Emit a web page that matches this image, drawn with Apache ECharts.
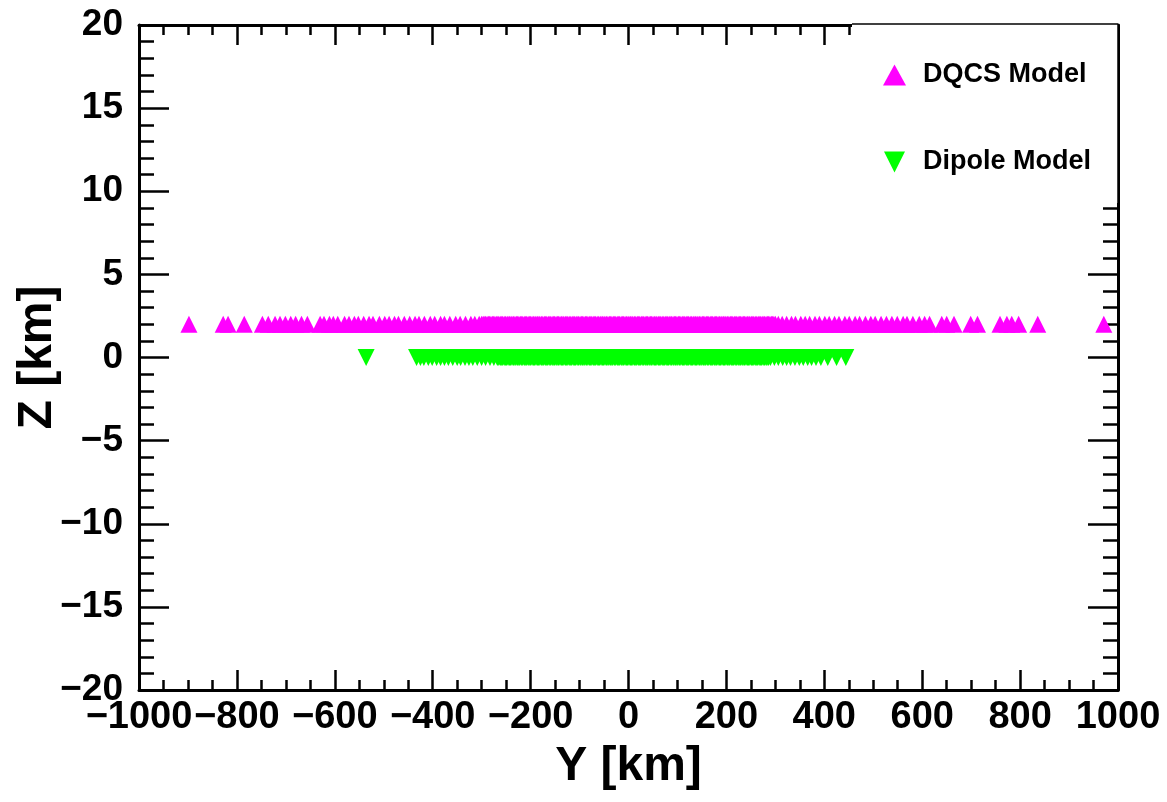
<!DOCTYPE html>
<html>
<head>
<meta charset="utf-8">
<script src="https://cdn.jsdelivr.net/npm/echarts@6/dist/echarts.min.js"></script>
<style>
html,body{margin:0;padding:0;background:#fff;}
#chart{width:1167px;height:802px;}
</style>
</head>
<body>
<div id="chart"></div>
<script>
// ---- data ----
const seriesNames = ['DQCS Model', 'Dipole Model'];
// Y [km] positions of the DQCS points (all at one Z level)
const dqcsY = [
  -898, -828, -818, -785, -748, -736, -722, -712, -701, -690, -680, -668, -656,
  -630, -622, -611, -603, -594, -580, -571, -560, -552, -541, -530, -522, -509,
  -498, -489, -478, -470, -458, -447, -436, -428, -417, -405, -396, -384, -376,
  -365, -353, -344, -333, -322, -314, -305,
  -300, -297, -295, -292, -289, -286, -284, -281, -278, -276, -273, -270, -267,
  -265, -262, -259, -257, -254, -251, -248, -246, -243, -240, -238, -235, -232,
  -229, -227, -224, -221, -219, -216, -213, -210, -208, -205, -202, -200, -197,
  -194, -191, -189, -186, -183, -181, -178, -175, -172, -170, -167, -164, -162,
  -159, -156, -153, -151, -148, -145, -143, -140, -137, -134, -132, -129, -126,
  -124, -121, -118, -115, -113, -110, -107, -105, -102, -99, -96, -94, -91, -88,
  -86, -83, -80, -77, -75, -72, -69, -67, -64, -61, -58, -56, -53, -50, -48,
  -45, -42, -39, -37, -34, -31, -29, -26, -23, -20, -18, -15, -12, -10, -7, -4,
  -1, 1, 4, 7, 9, 12, 15, 18, 20, 23, 26, 28, 31, 34, 37, 39, 42, 45, 47, 50,
  53, 56, 58, 61, 64, 66, 69, 72, 75, 77, 80, 83, 85, 88, 91, 94, 96, 99, 102,
  104, 107, 110, 113, 115, 118, 121, 123, 126, 129, 132, 134, 137, 140, 142,
  145, 148, 151, 153, 156, 159, 161, 164, 167, 170, 172, 175, 178, 180, 183,
  186, 189, 191, 194, 197, 199, 202, 205, 208, 210, 213, 216, 218, 221, 224,
  227, 229, 232, 235, 237, 240, 243, 246, 248, 251, 254, 256, 259, 262, 265,
  267, 270, 273, 275, 278, 281, 284, 286, 289, 292, 294, 297, 300,
  306, 314, 323, 333, 341, 352, 361, 370, 381, 390, 401, 410, 421, 430, 442,
  451, 463, 472, 484, 495, 504, 516, 527, 538, 549, 561, 569,
  581, 594, 605, 615, 640, 650, 665, 699, 713, 759, 773, 783, 797, 836, 971
];
const dqcsZ = 2.0;
// Y [km] positions of the Dipole points (all at one Z level)
const dipoleY = [
  -536,
  -433, -425, -418, -409, -401, -392, -384, -376, -368, -359, -350, -343, -334,
  -326, -318, -309, -300, -292, -283, -275,
  -268, -265, -262, -260, -257, -254, -251, -249, -246, -243, -241, -238, -235,
  -232, -230, -227, -224, -222, -219, -216, -213, -211, -208, -205, -203, -200,
  -197, -194, -192, -189, -186, -184, -181, -178, -175, -173, -170, -167, -165,
  -162, -159, -156, -154, -151, -148, -146, -143, -140, -137, -135, -132, -129,
  -127, -124, -121, -118, -116, -113, -110, -108, -105, -102, -99, -97, -94,
  -91, -89, -86, -83, -80, -78, -75, -72, -70, -67, -64, -61, -59, -56, -53,
  -51, -48, -45, -42, -40, -37, -34, -32, -29, -26, -23, -21, -18, -15, -13,
  -10, -7, -4, -2, 1, 4, 6, 9, 12, 15, 17, 20, 23, 25, 28, 31, 34, 36, 39, 42,
  44, 47, 50, 53, 55, 58, 61, 63, 66, 69, 72, 74, 77, 80, 82, 85, 88, 91, 93,
  96, 99, 101, 104, 107, 110, 112, 115, 118, 120, 123, 126, 129, 131, 134, 137,
  139, 142, 145, 148, 150, 153, 156, 158, 161, 164, 167, 169, 172, 175, 177,
  180, 183, 186, 188, 191, 194, 196, 199, 202, 205, 207, 210, 213, 215, 218,
  221, 224, 226, 229, 232, 234, 237, 240, 243, 245, 248, 251, 253, 256, 259,
  262, 264, 267, 270, 272, 275, 278, 281, 283, 286, 290,
  298, 306, 315, 323, 331, 340, 349, 357, 366, 374, 383, 393, 407, 425, 444
];
const dipoleZ = 0.0;
const xName = 'Y [km]';
const yName = 'Z [km]';

// ---- chart ----
const FONT = '"Liberation Sans", Arial, Helvetica, sans-serif';
const fmt = v => String(v).replace('-', '\u2212');
const chart = echarts.init(document.getElementById('chart'), null, {renderer: 'canvas'});

const axisLine = {show: true, onZero: false, lineStyle: {color: '#000', width: 3}};
function xAxisDef(pos, labels) {
  return {
    type: 'value', position: pos, min: -1000, max: 1000, interval: 200,
    axisLine: axisLine,
    axisTick: {show: true, inside: true, length: 20, lineStyle: {color: '#000', width: 2.5}},
    minorTick: {show: true, splitNumber: 4, length: 10, lineStyle: {color: '#000', width: 2.5}},
    splitLine: {show: false}, minorSplitLine: {show: false},
    axisLabel: {show: labels, formatter: fmt, color: '#000', fontFamily: FONT,
      fontWeight: 'bold', fontSize: 38, margin: 9},
    name: labels ? xName : '', nameLocation: 'middle', nameGap: 53, nameMoveOverlap: false,
    nameTextStyle: {color: '#000', fontFamily: FONT, fontWeight: 'bold', fontSize: 48}
  };
}
function yAxisDef(pos, labels) {
  return {
    type: 'value', position: pos, min: -20, max: 20, interval: 5,
    axisLine: axisLine,
    axisTick: {show: true, inside: true, length: 30, lineStyle: {color: '#000', width: 2.5}},
    minorTick: {show: true, splitNumber: 5, length: 15, lineStyle: {color: '#000', width: 2.5}},
    splitLine: {show: false}, minorSplitLine: {show: false},
    axisLabel: {show: labels, formatter: fmt, color: '#000', fontFamily: FONT,
      fontWeight: 'bold', fontSize: 37, margin: 16},
    name: labels ? yName : '', nameLocation: 'middle', nameGap: 77, nameRotate: 90,
    nameMoveOverlap: false,
    nameTextStyle: {color: '#000', fontFamily: FONT, fontWeight: 'bold', fontSize: 48}
  };
}

const option = {
  animation: false,
  backgroundColor: '#fff',
  grid: {left: 139, right: 49, top: 25, bottom: 112, containLabel: false, outerBoundsMode: 'none'},
  xAxis: [xAxisDef('bottom', true), xAxisDef('top', false)],
  yAxis: [yAxisDef('left', true), yAxisDef('right', false)],
  legend: {
    z: 200, zlevel: 0,
    orient: 'vertical', left: 878, top: 55,
    itemWidth: 23, itemHeight: 21, itemGap: 57,
    textStyle: {color: '#000', fontFamily: FONT, fontWeight: 'bold', fontSize: 27,
      lineHeight: 30, padding: [0, 0, 0, 12]},
    selectedMode: false,
    data: [
      {name: seriesNames[0], icon: 'triangle', itemStyle: {color: '#ff00ff'}},
      {name: seriesNames[1], icon: 'path://M0,0L2,0L1,2Z', itemStyle: {color: '#00ff00'}}
    ]
  },
  graphic: [
    {type: 'rect', z: 150, shape: {x: 852, y: 23, width: 266, height: 180},
      style: {fill: '#fff', stroke: null}},
    {type: 'line', z: 151, shape: {x1: 852, y1: 24, x2: 1118, y2: 24},
      style: {stroke: '#000', lineWidth: 1.5}},
    {type: 'line', z: 151, shape: {x1: 1118, y1: 24, x2: 1118, y2: 204},
      style: {stroke: '#000', lineWidth: 1.5}}
  ],
  series: [
    {
      name: seriesNames[0], type: 'scatter', xAxisIndex: 0, yAxisIndex: 0,
      symbol: 'triangle', symbolSize: 17,
      itemStyle: {color: '#ff00ff', opacity: 1},
      data: dqcsY.map(y => [y, dqcsZ])
    },
    {
      name: seriesNames[1], type: 'scatter', xAxisIndex: 0, yAxisIndex: 0,
      symbol: 'triangle', symbolRotate: 180, symbolSize: 17,
      itemStyle: {color: '#00ff00', opacity: 1},
      data: dipoleY.map(y => [y, dipoleZ])
    }
  ]
};
chart.setOption(option);
</script>
</body>
</html>
